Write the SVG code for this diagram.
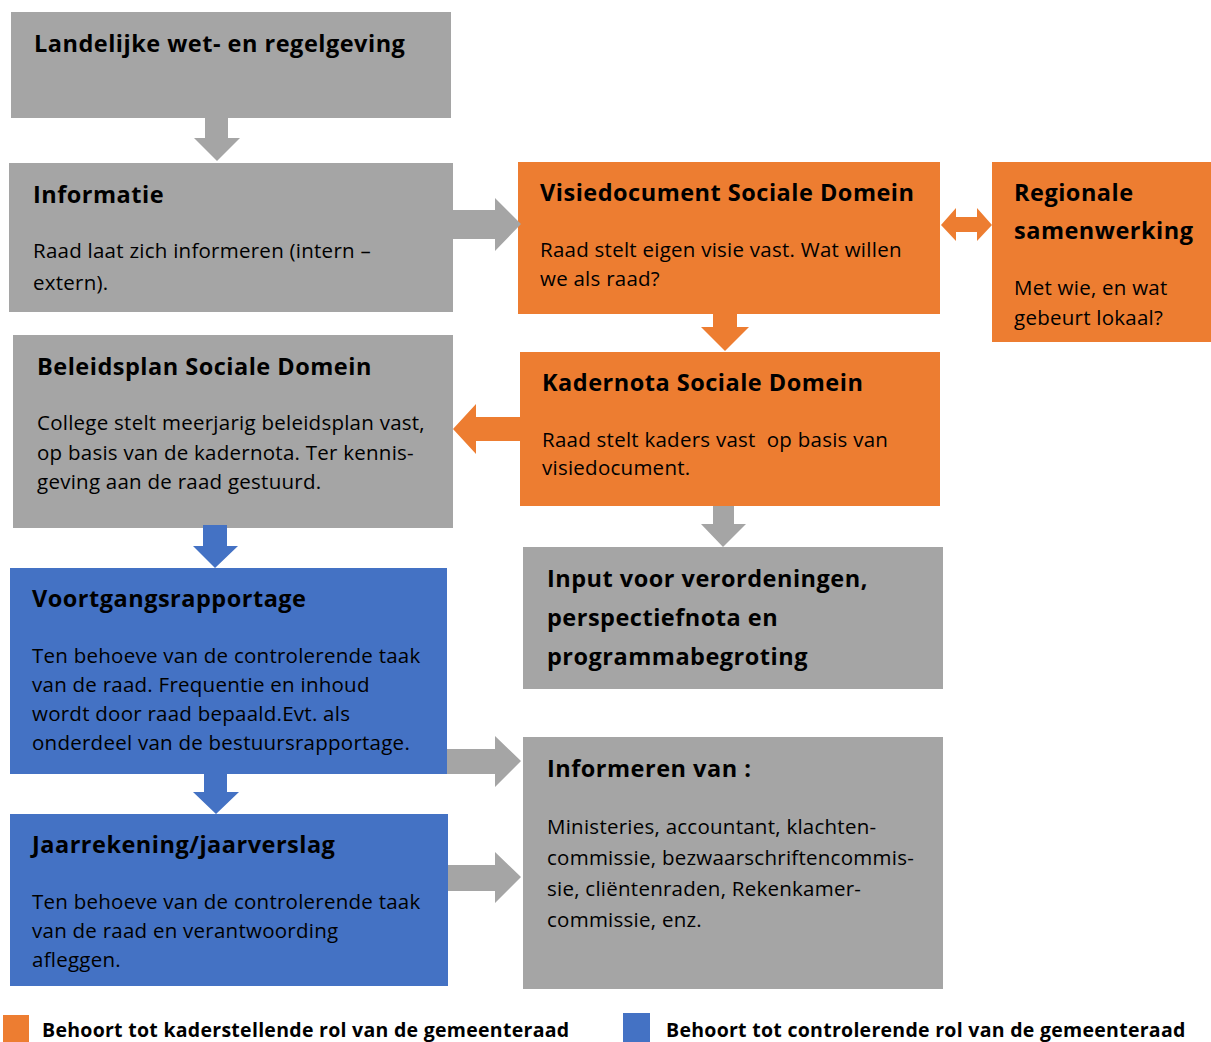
<svg xmlns="http://www.w3.org/2000/svg" width="1211" height="1042" viewBox="0 0 1211 1042">
<style>
.gray{fill:#A5A5A5}
.orange{fill:#ED7D31}
.blue{fill:#4472C4}
text{font-family:"Open Sans","Noto Sans","DejaVu Sans",sans-serif;fill:#000}
.t{font-size:23.5px;font-weight:bold;letter-spacing:0.5px}
.b{font-size:20.5px;letter-spacing:0.25px}
.lg{font-size:19.5px;font-weight:bold;letter-spacing:0.28px}
</style>
<rect width="1211" height="1042" fill="#fff"/>
<g id="landelijke">
<rect class="gray" x="11" y="12" width="440" height="106"/>
<text class="t" x="34" y="52">Landelijke wet- en regelgeving</text>
</g>
<g id="informatie">
<rect class="gray" x="9" y="163" width="444" height="149"/>
<text class="t" x="33" y="203">Informatie</text>
<text class="b" x="33" y="258">Raad laat zich informeren (intern –</text>
<text class="b" x="33" y="290">extern).</text>
</g>
<g id="visiedocument">
<rect class="orange" x="518" y="162" width="422" height="152"/>
<text class="t" x="540" y="201">Visiedocument Sociale Domein</text>
<text class="b" x="540" y="257">Raad stelt eigen visie vast. Wat willen</text>
<text class="b" x="540" y="286">we als raad?</text>
</g>
<g id="regionale">
<rect class="orange" x="992" y="162" width="219" height="180"/>
<text class="t" x="1014" y="201">Regionale</text>
<text class="t" x="1014" y="239">samenwerking</text>
<text class="b" x="1014" y="295">Met wie, en wat</text>
<text class="b" x="1014" y="325">gebeurt lokaal?</text>
</g>
<g id="beleidsplan">
<rect class="gray" x="13" y="335" width="440" height="193"/>
<text class="t" x="37" y="375">Beleidsplan Sociale Domein</text>
<text class="b" x="37" y="430">College stelt meerjarig beleidsplan vast,</text>
<text class="b" x="37" y="460">op basis van de kadernota. Ter kennis-</text>
<text class="b" x="37" y="489">geving aan de raad gestuurd.</text>
</g>
<g id="kadernota">
<rect class="orange" x="520" y="352" width="420" height="154"/>
<text class="t" x="542" y="391">Kadernota Sociale Domein</text>
<text class="b" x="542" y="447" xml:space="preserve">Raad stelt kaders vast  op basis van</text>
<text class="b" x="542" y="475">visiedocument.</text>
</g>
<g id="input">
<rect class="gray" x="523" y="547" width="420" height="142"/>
<text class="t" x="547" y="587">Input voor verordeningen,</text>
<text class="t" x="547" y="626">perspectiefnota en</text>
<text class="t" x="547" y="665">programmabegroting</text>
</g>
<g id="voortgangsrapportage">
<rect class="blue" x="10" y="568" width="437" height="206"/>
<text class="t" x="32" y="607">Voortgangsrapportage</text>
<text class="b" x="32" y="663">Ten behoeve van de controlerende taak</text>
<text class="b" x="32" y="692">van de raad. Frequentie en inhoud</text>
<text class="b" x="32" y="721">wordt door raad bepaald.Evt. als</text>
<text class="b" x="32" y="750">onderdeel van de bestuursrapportage.</text>
</g>
<g id="informeren">
<rect class="gray" x="523" y="737" width="420" height="252"/>
<text class="t" x="547" y="777">Informeren van :</text>
<text class="b" x="547" y="834">Ministeries, accountant, klachten-</text>
<text class="b" x="547" y="865">commissie, bezwaarschriftencommis-</text>
<text class="b" x="547" y="896">sie, cliëntenraden, Rekenkamer-</text>
<text class="b" x="547" y="927">commissie, enz.</text>
</g>
<g id="jaarrekening">
<rect class="blue" x="10" y="814" width="438" height="172"/>
<text class="t" x="32" y="853">Jaarrekening/jaarverslag</text>
<text class="b" x="32" y="909">Ten behoeve van de controlerende taak</text>
<text class="b" x="32" y="938">van de raad en verantwoording</text>
<text class="b" x="32" y="967">afleggen.</text>
</g>
<g id="connectors">
<polygon class="gray" points="205,117 228,117 228,138 240,138 217,161 194,138 205,138"/>
<polygon class="gray" points="453,210 495,210 495,198 521,224 495,251 495,239 453,239"/>
<polygon class="orange" points="941,225 956,208 956,217 977,217 977,208 992,225 977,241 977,232 956,232 956,241"/>
<polygon class="orange" points="713,313 737,313 737,327 749,327 725,351 701,327 713,327"/>
<polygon class="orange" points="520,417 476,417 476,404 453,429 476,454 476,441 520,441"/>
<polygon class="blue" points="203,525 227,525 227,546 238,546 215,568 193,546 203,546"/>
<polygon class="gray" points="713,506 734,506 734,524 746,524 723,547 701,524 713,524"/>
<polygon class="gray" points="447,749 495,749 495,736 521,761 495,787 495,774 447,774"/>
<polygon class="blue" points="204,774 227,774 227,792 239,792 216,814 193,792 204,792"/>
<polygon class="gray" points="448,865 495,865 495,852 521,877 495,903 495,891 448,891"/>
</g>
<g id="legend">
<rect class="orange" x="3" y="1015" width="26" height="27"/>
<text class="lg" x="42" y="1037">Behoort tot kaderstellende rol van de gemeenteraad</text>
<rect class="blue" x="623" y="1013" width="27" height="29"/>
<text class="lg" x="666" y="1037">Behoort tot controlerende rol van de gemeenteraad</text>
</g>
</svg>
